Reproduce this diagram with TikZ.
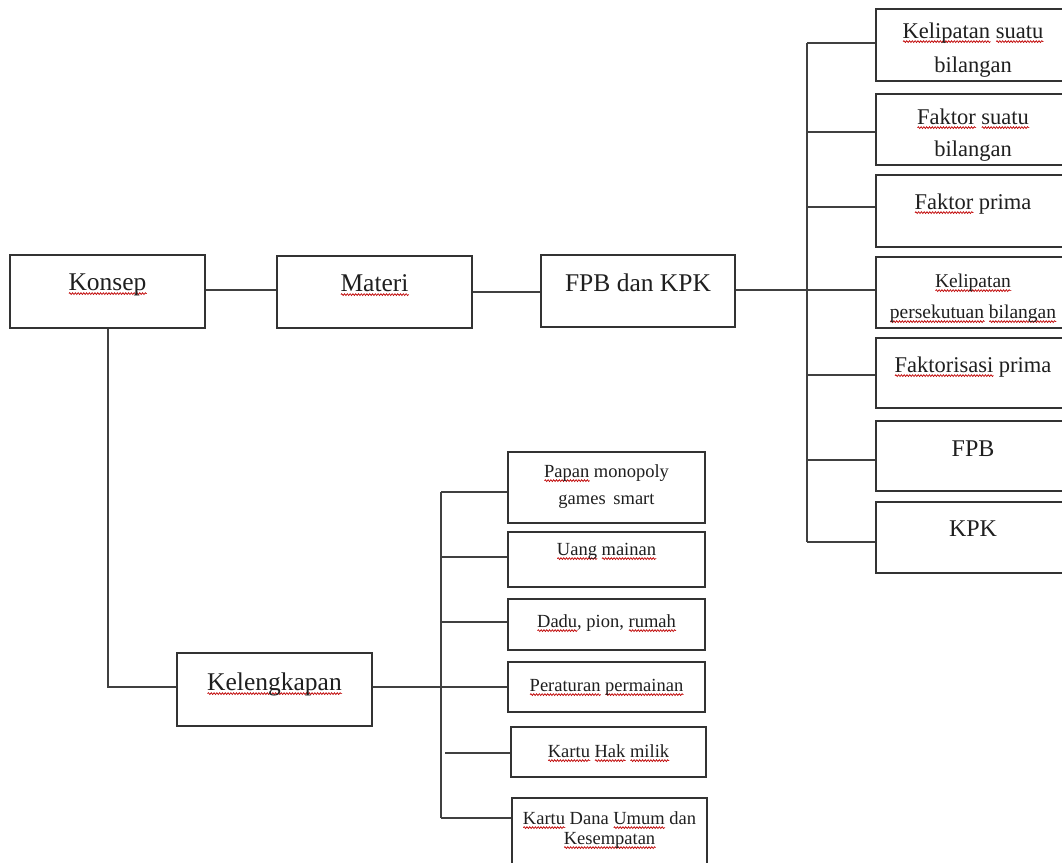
\documentclass[tikz,border=0pt]{standalone}
\usepackage{fontspec}
\setmainfont{Liberation Serif}
\usetikzlibrary{decorations.pathmorphing}
\newsavebox\sqbox
\newcommand\sq[1]{\sbox\sqbox{#1}\rlap{\begin{tikzpicture}[baseline=0pt]\draw[red!75!black, line width=0.7pt, decorate, decoration={snake, amplitude=0.9pt, segment length=2.8pt}] (0pt,-3.6pt) -- (\wd\sqbox,-3.6pt);\end{tikzpicture}}\usebox\sqbox}
\tikzset{
  box/.style={draw=black!80, line width=1.6pt, rectangle, inner sep=0pt, align=center, text=black!88},
  link/.style={draw=black!75, line width=1.8pt},
  mainbox/.style={box, minimum width=195pt, font=\fontsize{25.5}{30}\selectfont},
  subbox/.style={box, minimum width=194pt, font=\fontsize{22.5}{33}\selectfont},
  lowbox/.style={box, minimum width=197pt, font=\fontsize{18.5}{27}\selectfont},
}
\begin{document}
\begin{tikzpicture}[x=1pt,y=-1pt]
\useasboundingbox (0,0) rectangle (1062,862);
\clip (0,0) rectangle (1062,862);
\fill[white] (0,0) rectangle (1062,862);
% main row
\node[mainbox, text height=35pt, text depth=38pt] (konsep) at (107.5,291.5) {\sq{Konsep}};
\node[mainbox, text height=35pt, text depth=37pt] (materi) at (374.5,292) {\sq{Materi}};
\node[mainbox, minimum width=194pt, text height=36pt, text depth=36pt] (fpbkpk) at (638,291) {FPB dan KPK};
\node[mainbox, text height=37pt, text depth=36pt] (kel) at (274.5,689.5) {\sq{Kelengkapan}};
% right column
\node[subbox, text height=63pt, text depth=9pt, font=\fontsize{22.5}{34}\selectfont] (r1) at (973,45) {\sq{Kelipatan} \sq{suatu}\\bilangan};
\node[subbox, text height=62pt, text depth=9pt, font=\fontsize{22.5}{32}\selectfont] (r2) at (973,129.5) {\sq{Faktor} \sq{suatu}\\bilangan};
\node[subbox, text height=34pt, text depth=38pt] (r3) at (973,211) {\sq{Faktor} prima};
\node[subbox, text height=61pt, text depth=10pt, font=\fontsize{19.5}{31}\selectfont] (r4) at (973,292.5) {\sq{Kelipatan}\\\sq{persekutuan} \sq{bilangan}};
\node[subbox, text height=34pt, text depth=36pt] (r5) at (973,373) {\sq{Faktorisasi} prima};
\node[subbox, text height=35pt, text depth=35pt, font=\fontsize{24}{30}\selectfont] (r6) at (973,456) {FPB};
\node[subbox, text height=34pt, text depth=37pt, font=\fontsize{24}{30}\selectfont] (r7) at (973,537.5) {KPK};
% lower column
\node[lowbox, text height=52pt, text depth=19pt, font=\fontsize{18.5}{27}\selectfont] (la) at (606.5,487.5) {\sq{Papan} monopoly\\games\, smart};
\node[lowbox, text height=23pt, text depth=32pt] (lb) at (606.5,559.5) {\sq{Uang} \sq{mainan}};
\node[lowbox, text height=28pt, text depth=23pt] (lc) at (606.5,624.5) {\sq{Dadu}, pion, \sq{rumah}};
\node[lowbox, text height=29pt, text depth=21pt] (ld) at (606.5,687) {\sq{Peraturan} \sq{permainan}};
\node[lowbox, minimum width=195pt, text height=30pt, text depth=20pt] (le) at (608.5,752) {\sq{Kartu} \sq{Hak} \sq{milik}};
\node[lowbox, minimum width=195pt, text height=46pt, text depth=31pt, font=\fontsize{18.5}{20}\selectfont] (lf) at (609.5,836.5) {\sq{Kartu} Dana \sq{Umum} dan\\\sq{Kesempatan}};
% junction points on the main row
\coordinate (m1) at (0,290);
\coordinate (m2) at (0,292);
\coordinate (m3) at (0,290);
\coordinate (kv) at (108,0);
\coordinate (kh) at (0,687);
% right bus
\coordinate (rb1) at (807,43);
\coordinate (rb2) at (807,132);
\coordinate (rb3) at (807,207);
\coordinate (rb4) at (807,290);
\coordinate (rb5) at (807,375);
\coordinate (rb6) at (807,460);
\coordinate (rb7) at (807,542);
% lower bus
\coordinate (lb1) at (441,492);
\coordinate (lb2) at (441,557);
\coordinate (lb3) at (441,622);
\coordinate (lb4) at (441,687);
\coordinate (lb5) at (445,753);
\coordinate (lb6) at (441,818);
% connectors
\draw[link] (konsep.east |- m1) -- (materi.west |- m1);
\draw[link] (materi.east |- m2) -- (fpbkpk.west |- m2);
\draw[link] (fpbkpk.east |- m3) -- (rb4);
\draw[link] (rb1) -- (rb7);
\draw[link] (rb1) -- (rb1 -| r1.west);
\draw[link] (rb2) -- (rb2 -| r2.west);
\draw[link] (rb3) -- (rb3 -| r3.west);
\draw[link] (rb4) -- (rb4 -| r4.west);
\draw[link] (rb5) -- (rb5 -| r5.west);
\draw[link] (rb6) -- (rb6 -| r6.west);
\draw[link] (rb7) -- (rb7 -| r7.west);
\draw[link] (kv |- konsep.south) -- (kv |- kh) -- (kel.west |- kh);
\draw[link] (kel.east |- kh) -- (lb4);
\draw[link] (lb1) -- (lb6);
\draw[link] (lb1) -- (lb1 -| la.west);
\draw[link] (lb2) -- (lb2 -| lb.west);
\draw[link] (lb3) -- (lb3 -| lc.west);
\draw[link] (lb4) -- (lb4 -| ld.west);
\draw[link] (lb5) -- (lb5 -| le.west);
\draw[link] (lb6) -- (lb6 -| lf.west);
\end{tikzpicture}
\end{document}
